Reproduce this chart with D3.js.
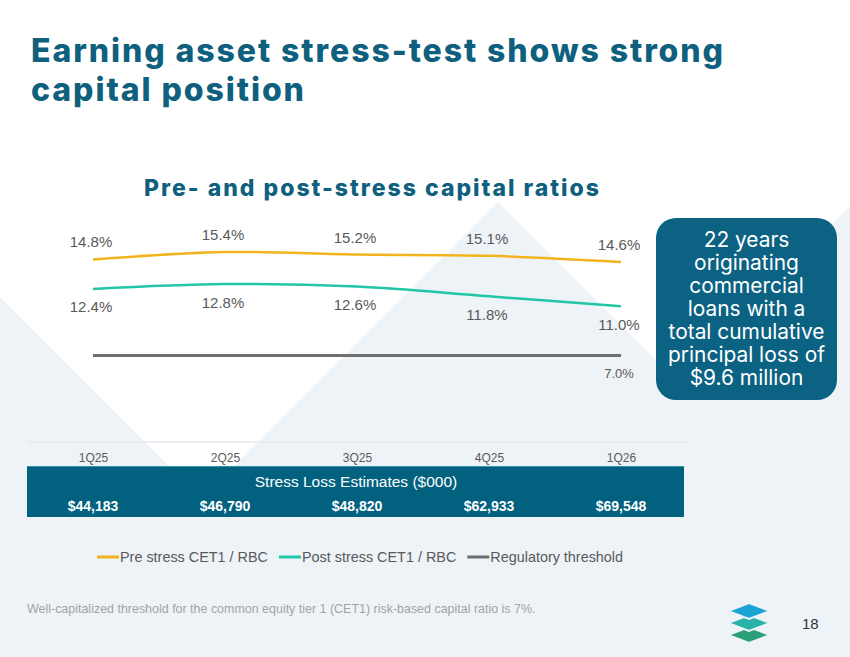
<!DOCTYPE html>
<html>
<head>
<meta charset="utf-8">
<script src="https://cdn.jsdelivr.net/npm/d3@7"></script>
<style>
  body { margin: 0; background: #fff; }
  svg { display: block; }
</style>
</head>
<body>
<div id="wrapper"></div>
<script>
// chart data
const quarters = ["1Q25", "2Q25", "3Q25", "4Q25", "1Q26"];
const preStress = [14.8, 15.4, 15.2, 15.1, 14.6];
const postStress = [12.4, 12.8, 12.6, 11.8, 11.0];
const threshold = [7.0, 7.0, 7.0, 7.0, 7.0];
const stressLoss = [44183, 46790, 48820, 62933, 69548];
const seriesNames = ["Pre stress CET1 / RBC", "Post stress CET1 / RBC", "Regulatory threshold"];
const calloutLines = ["22 years", "originating", "commercial", "loans with a", "total cumulative", "principal loss of", "$9.6 million"];

const colors = { pre: "#f2b41e", post: "#22c6a6", reg: "#6f6f6f" };
const titleColor = "#0f5f7e";

function buildChart() {
    const dimension = { width: 850, height: 657 };

    const svg = d3.select("#wrapper").append("svg")
        .attr("width", dimension.width)
        .attr("height", dimension.height);

    // background shapes
    const bg = [[0, 297], [201.5, 498.5], [498, 202], [676, 380], [850, 206], [850, 657], [0, 657]];
    svg.append("path")
        .attr("d", d3.line()(bg) + "Z")
        .attr("fill", "#eef3f8");

    // spread letters so a text reaches the width seen in the reference
    const spreadText = (sel, target) => {
        const len = sel.node().getComputedTextLength();
        const n = sel.text().length;
        sel.attr("letter-spacing", (target - len) / n);
    };
    const titleFont = "Inter, sans-serif";
    const t1 = svg.append("text").attr("x", 31).attr("y", 62)
        .attr("font-family", titleFont).attr("font-weight", 800)
        .attr("font-size", 32).attr("fill", titleColor)
        .text("Earning asset stress-test shows strong");
    spreadText(t1, 694);
    const t2 = svg.append("text").attr("x", 31).attr("y", 101)
        .attr("font-family", titleFont).attr("font-weight", 800)
        .attr("font-size", 32).attr("fill", titleColor)
        .attr("letter-spacing", t1.attr("letter-spacing"))
        .text("capital position");
    const sub = svg.append("text").attr("x", 144).attr("y", 196)
        .attr("font-family", titleFont).attr("font-weight", 800)
        .attr("font-size", 23).attr("fill", titleColor)
        .text("Pre- and post-stress capital ratios");
    spreadText(sub, 457);

    // scales
    const xScaler = d3.scalePoint()
        .domain(quarters)
        .range([27, 687])
        .padding(0.5);
    const yScaler = d3.scaleLinear()
        .domain([0, 20])
        .range([441.5, 195.5]);

    // x axis
    const xAxis = d3.axisBottom(xScaler).tickSize(0).tickPadding(12);
    const axisG = svg.append("g")
        .attr("transform", `translate(0, ${yScaler(0)})`)
        .call(xAxis);
    axisG.select(".domain").attr("stroke", "#e4eaf0").attr("stroke-width", 1.5);
    axisG.selectAll("text")
        .attr("font-family", "'Liberation Sans', Arial, sans-serif")
        .attr("font-size", 12)
        .attr("fill", "#595959");

    const lineGenerator = d3.line()
        .x((d, i) => xScaler(quarters[i]))
        .y(d => yScaler(d))
        .curve(d3.curveCatmullRom.alpha(0.5));

    const series = [
        { key: "pre", values: preStress },
        { key: "post", values: postStress },
        { key: "reg", values: threshold }
    ];
    svg.append("g").selectAll("path")
        .data(series)
        .join("path")
        .attr("d", d => lineGenerator(d.values))
        .attr("fill", "none")
        .attr("stroke", d => colors[d.key])
        .attr("stroke-width", d => d.key === "reg" ? 3 : 2.5)
        .attr("stroke-linecap", "butt");

    const fmt = d => d.toFixed(1) + "%";
    const labelFont = "'Liberation Sans', Arial, sans-serif";

    svg.append("g").selectAll("text")
        .data(preStress)
        .join("text")
        .attr("x", (d, i) => xScaler(quarters[i]) - 2)
        .attr("y", d => yScaler(d) - 12)
        .attr("text-anchor", "middle")
        .attr("font-family", labelFont).attr("font-size", 15).attr("fill", "#595959")
        .text(fmt);

    svg.append("g").selectAll("text")
        .data(postStress)
        .join("text")
        .attr("x", (d, i) => xScaler(quarters[i]) - 2)
        .attr("y", d => yScaler(d) + 23.5)
        .attr("text-anchor", "middle")
        .attr("font-family", labelFont).attr("font-size", 15).attr("fill", "#595959")
        .text(fmt);

    const last = quarters.length - 1;
    svg.append("text")
        .attr("x", xScaler(quarters[last]) - 2)
        .attr("y", yScaler(threshold[last]) + 22.5)
        .attr("text-anchor", "middle")
        .attr("font-family", labelFont).attr("font-size", 13).attr("fill", "#595959")
        .text(fmt(threshold[last]));

    // stress loss table
    const table = svg.append("g");
    table.append("rect")
        .attr("x", 27).attr("y", 466)
        .attr("width", 657).attr("height", 51)
        .attr("fill", "#02617f");
    table.append("line")
        .attr("x1", 27).attr("x2", 684).attr("y1", 466.5).attr("y2", 466.5)
        .attr("stroke", "#2f95ad").attr("stroke-width", 1);
    table.append("text")
        .attr("x", 356).attr("y", 487)
        .attr("text-anchor", "middle")
        .attr("font-family", labelFont).attr("font-size", 15.5).attr("fill", "#fff")
        .text("Stress Loss Estimates ($000)");
    table.selectAll(".val")
        .data(stressLoss)
        .join("text")
        .attr("class", "val")
        .attr("x", (d, i) => xScaler(quarters[i]))
        .attr("y", 511)
        .attr("text-anchor", "middle")
        .attr("font-family", labelFont).attr("font-weight", "bold")
        .attr("font-size", 14).attr("fill", "#fff")
        .text(d => d3.format("$,")(d));

    // legend
    const legend = svg.append("g").attr("transform", "translate(97, 557)");
    let lx = 0;
    const legendKeys = ["pre", "post", "reg"];
    seriesNames.forEach((name, i) => {
        legend.append("line")
            .attr("x1", lx).attr("x2", lx + 22)
            .attr("y1", 0).attr("y2", 0)
            .attr("stroke", colors[legendKeys[i]]).attr("stroke-width", 3);
        const t = legend.append("text")
            .attr("x", lx + 23).attr("y", 5)
            .attr("font-family", labelFont).attr("font-size", 14.4).attr("fill", "#595959")
            .text(name);
        lx += 23 + t.node().getComputedTextLength() + 11;
    });

    // callout
    svg.append("rect")
        .attr("x", 656).attr("y", 218)
        .attr("width", 181).attr("height", 182)
        .attr("rx", 20)
        .attr("fill", "#0c6283");
    const callout = svg.append("g").selectAll("text")
        .data(calloutLines)
        .join("text")
        .attr("x", 746.5)
        .attr("y", (d, i) => 246.7 + i * 23)
        .attr("text-anchor", "middle")
        .attr("font-family", "Inter, sans-serif")
        .attr("font-size", 19).attr("fill", "#fff")
        .text(d => d);
    const wide = callout.filter(d => d === "total cumulative").node().getComputedTextLength();
    callout.attr("font-size", 19 * 156 / wide);

    // footnote
    const foot = svg.append("text")
        .attr("x", 27).attr("y", 613)
        .attr("font-family", labelFont).attr("font-size", 12).attr("fill", "#a3a3a3")
        .text("Well-capitalized threshold for the common equity tier 1 (CET1) risk-based capital ratio is 7%.");
    foot.attr("font-size", 12 * 509 / foot.node().getComputedTextLength());

    // logo
    const logo = svg.append("g").attr("transform", "translate(749, 0)");
    const diamond = cy => `M-21,${cy} L0,${cy - 8} L21,${cy} L0,${cy + 8} Z`;
    [[635, "#2a9f78"], [623, "#27b3a8"], [611, "#1ba3d3"]].forEach(([cy, c]) => {
        logo.append("path").attr("d", diamond(cy))
            .attr("fill", c).attr("stroke", "#eef3f8").attr("stroke-width", 2);
    });

    svg.append("text")
        .attr("x", 802).attr("y", 629)
        .attr("font-family", labelFont).attr("font-size", 15).attr("fill", "#333")
        .text("18");
}

buildChart();
</script>
</body>
</html>
